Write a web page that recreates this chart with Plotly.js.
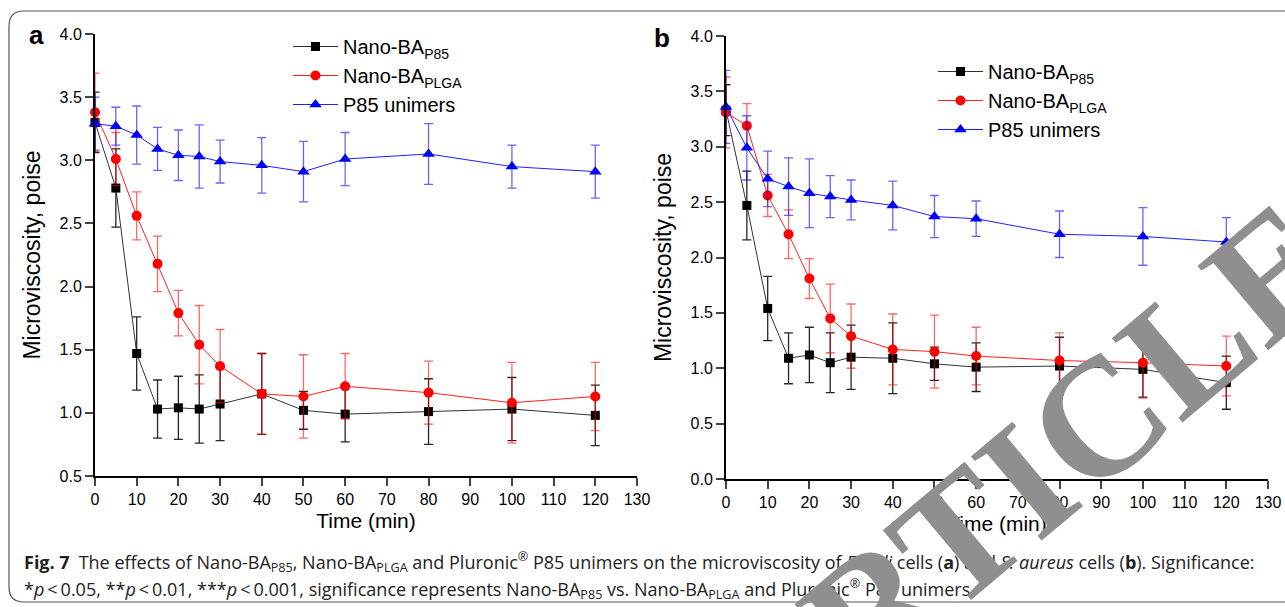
<!DOCTYPE html>
<html><head><meta charset="utf-8">
<script src="https://cdn.plot.ly/plotly-3.0.1.min.js"></script>
<style>html,body{margin:0;padding:0;background:#fff}#chart{width:1285px;height:607px}</style>
</head><body><div id="chart"></div>
<script>
// ---- data ----
const time = [0, 5, 10, 15, 20, 25, 30, 40, 50, 60, 80, 100, 120];
const seriesNames = ['Nano-BA<sub>P85</sub>', 'Nano-BA<sub>PLGA</sub>', 'P85 unimers'];
// panel a (E. coli)
const aP85     = [3.30, 2.78, 1.47, 1.03, 1.04, 1.03, 1.07, 1.15, 1.02, 0.99, 1.01, 1.03, 0.98];
const aP85Err  = [0.24, 0.31, 0.29, 0.23, 0.25, 0.27, 0.29, 0.32, 0.15, 0.22, 0.26, 0.25, 0.24];
const aPLGA    = [3.38, 3.01, 2.56, 2.18, 1.79, 1.54, 1.37, 1.15, 1.13, 1.21, 1.16, 1.08, 1.13];
const aPLGAErr = [0.31, 0.21, 0.19, 0.22, 0.18, 0.31, 0.29, 0.32, 0.33, 0.26, 0.25, 0.32, 0.27];
const aUni     = [3.29, 3.27, 3.20, 3.09, 3.04, 3.03, 2.99, 2.96, 2.91, 3.01, 3.05, 2.95, 2.91];
const aUniErr  = [0.21, 0.15, 0.23, 0.17, 0.20, 0.25, 0.17, 0.22, 0.24, 0.21, 0.24, 0.17, 0.21];
// panel b (S. aureus)
const bP85     = [3.33, 2.47, 1.54, 1.09, 1.12, 1.05, 1.10, 1.09, 1.04, 1.01, 1.02, 0.99, 0.87];
const bP85Err  = [0.23, 0.31, 0.29, 0.23, 0.25, 0.27, 0.29, 0.32, 0.15, 0.22, 0.26, 0.25, 0.24];
const bPLGA    = [3.31, 3.19, 2.56, 2.21, 1.81, 1.45, 1.29, 1.17, 1.15, 1.11, 1.07, 1.05, 1.02];
const bPLGAErr = [0.32, 0.20, 0.19, 0.22, 0.18, 0.31, 0.29, 0.32, 0.33, 0.26, 0.25, 0.32, 0.27];
const bUni     = [3.36, 2.99, 2.71, 2.64, 2.58, 2.55, 2.52, 2.47, 2.37, 2.35, 2.21, 2.19, 2.14];
const bUniErr  = [0.33, 0.29, 0.25, 0.26, 0.31, 0.19, 0.18, 0.22, 0.19, 0.16, 0.21, 0.26, 0.22];
const xTicks = [0, 10, 20, 30, 40, 50, 60, 70, 80, 90, 100, 110, 120, 130];
const yTicksA = [0.5, 1.0, 1.5, 2.0, 2.5, 3.0, 3.5, 4.0];
const yTicksB = [0.0, 0.5, 1.0, 1.5, 2.0, 2.5, 3.0, 3.5, 4.0];

// ---- styles ----
const styles = [
  {line: '#333333', marker: '#000000', symbol: 'square', size: 9, err: 'rgba(0,0,0,0.85)'},
  {line: '#ff2020', marker: '#ff0000', symbol: 'circle', size: 10, err: 'rgba(255,0,0,0.6)'},
  {line: '#2020ff', marker: '#0000ff', symbol: 'triangle-up', size: 11, err: 'rgba(0,0,255,0.6)'}
];
function mk(y, err, i, xa, ya, leg) {
  const s = styles[i];
  return {
    x: time, y: y, type: 'scatter', mode: 'lines+markers', name: seriesNames[i],
    xaxis: xa, yaxis: ya, legend: leg, cliponaxis: false,
    line: {color: s.line, width: 1},
    marker: {color: s.marker, symbol: s.symbol, size: s.size, line: {width: 0}},
    error_y: {type: 'data', array: err, visible: true, color: s.err, thickness: 1.3, width: 4.5}
  };
}
const data = [
  mk(aP85, aP85Err, 0, 'x', 'y', 'legend'),
  mk(aPLGA, aPLGAErr, 1, 'x', 'y', 'legend'),
  mk(aUni, aUniErr, 2, 'x', 'y', 'legend'),
  mk(bP85, bP85Err, 0, 'x2', 'y2', 'legend2'),
  mk(bPLGA, bPLGAErr, 1, 'x2', 'y2', 'legend2'),
  mk(bUni, bUniErr, 2, 'x2', 'y2', 'legend2')
];

const W = 1285, H = 607;
const px = v => v / W, py = v => 1 - v / H;
const tickFont = {family: 'Liberation Sans, Arial, sans-serif', size: 16, color: '#000'};
const titleFont = {family: 'Liberation Sans, Arial, sans-serif', size: 21, color: '#000'};
function xAx(dom) {
  return {domain: dom, range: [0, 130], tickvals: xTicks, ticks: 'outside', ticklen: 8, tickwidth: 2,
    showline: true, linewidth: 2, linecolor: '#000', showgrid: false, zeroline: false, mirror: false,
    tickfont: tickFont, automargin: false,
    title: {text: 'Time (min)', font: titleFont, standoff: 6}};
}
function yAx(dom, rng, tv, anchor) {
  return {domain: dom, range: rng, tickvals: tv, tickformat: '.1f', ticks: 'outside', ticklen: 8, tickwidth: 2,
    showline: true, linewidth: 2, linecolor: '#000', showgrid: false, zeroline: false, anchor: anchor,
    tickfont: tickFont, automargin: false,
    title: {text: 'Microviscosity, poise', font: {family: 'Liberation Sans, Arial, sans-serif', size: 23, color: '#000'}, standoff: 12}};
}
const legFont = {family: 'Liberation Sans, Arial, sans-serif', size: 20, color: '#000'};
const capFont = {family: 'Open Sans, sans-serif', size: 18, color: '#222'};
const r = 15;
const L = 9, T = 11, B = 602;
const framePath = `M ${px(1300)},${py(T)} L ${px(L + r)},${py(T)} Q ${px(L)},${py(T)} ${px(L)},${py(T + r)} L ${px(L)},${py(B - r)} Q ${px(L)},${py(B)} ${px(L + r)},${py(B)} L ${px(1300)},${py(B)}`;

const layout = {
  width: W, height: H, autosize: false, margin: {l: 0, r: 0, t: 0, b: 0},
  paper_bgcolor: '#fff', plot_bgcolor: 'rgba(0,0,0,0)', showlegend: true,
  xaxis: xAx([px(95), px(637)]),
  yaxis: yAx([py(476), py(34)], [0.5, 4.0], yTicksA, 'x'),
  xaxis2: Object.assign(xAx([px(726), px(1268)]), {anchor: 'y2'}),
  yaxis2: yAx([py(479), py(36)], [0, 4.0], yTicksB, 'x2'),
  legend: {x: px(288), y: py(27), xanchor: 'left', yanchor: 'top', bgcolor: 'rgba(0,0,0,0)',
    font: legFont, itemwidth: 45, tracegroupgap: 0},
  legend2: {x: px(933), y: py(52), xanchor: 'left', yanchor: 'top', bgcolor: 'rgba(0,0,0,0)',
    font: legFont, itemwidth: 45, tracegroupgap: 0},
  shapes: [{type: 'path', xref: 'paper', yref: 'paper', path: framePath, line: {color: '#555', width: 1.2}}],
  annotations: [
    {text: '<b>a</b>', x: px(36), y: py(35), xref: 'paper', yref: 'paper', xanchor: 'center', yanchor: 'middle', showarrow: false,
      font: {family: 'Liberation Sans, Arial, sans-serif', size: 26, color: '#000'}},
    {text: '<b>b</b>', x: px(662), y: py(38), xref: 'paper', yref: 'paper', xanchor: 'center', yanchor: 'middle', showarrow: false,
      font: {family: 'Liberation Sans, Arial, sans-serif', size: 26, color: '#000'}},
    {text: '<b>Fig. 7</b>\u2002The effects of Nano-BA<sub>P85</sub>, Nano-BA<sub>PLGA</sub> and Pluronic<sup>®</sup> P85 unimers on the microviscosity of <i>E. coli</i> cells (<b>a</b>) and <i>S. aureus</i> cells (<b>b</b>). Significance:',
      x: px(22), y: py(562), xref: 'paper', yref: 'paper', xanchor: 'left', yanchor: 'middle', showarrow: false, font: capFont},
    {text: '*<i>p</i>\u2009&lt;\u20090.05, **<i>p</i>\u2009&lt;\u20090.01, ***<i>p</i>\u2009&lt;\u20090.001, significance represents Nano-BA<sub>P85</sub> vs. Nano-BA<sub>PLGA</sub> and Pluronic<sup>®</sup> P85 unimers',
      x: px(22), y: py(589), xref: 'paper', yref: 'paper', xanchor: 'left', yanchor: 'middle', showarrow: false, font: capFont},
    {text: 'RETRACTED ARTICLE', x: 0.473, y: -0.367, xref: 'paper', yref: 'paper', xanchor: 'center', yanchor: 'middle',
      showarrow: false, textangle: -40,
      font: {family: 'Liberation Serif, Times New Roman, serif', size: 168, color: '#8f8f8f', weight: 'bold'}}
  ]
};
Plotly.newPlot('chart', data, layout, {displayModeBar: false, staticPlot: true});
</script></body></html>
